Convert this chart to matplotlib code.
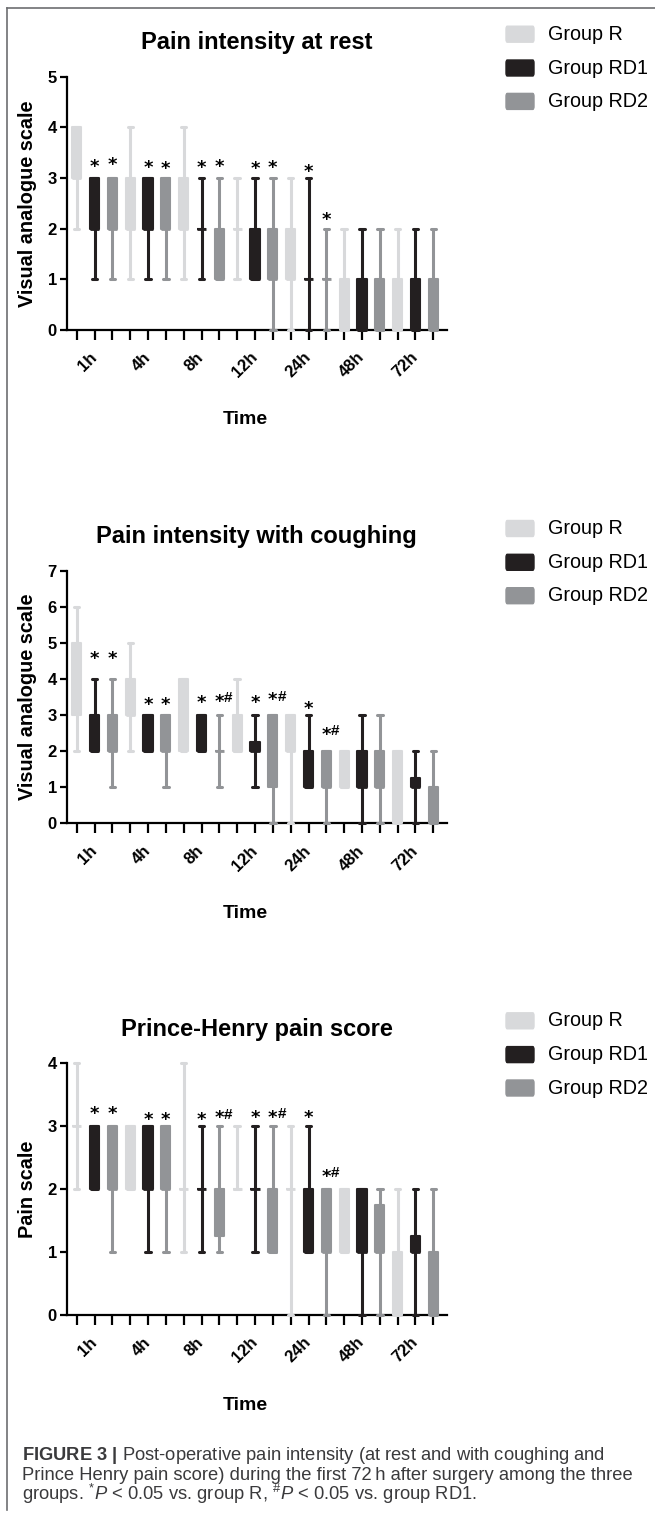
import matplotlib
matplotlib.use("Agg")
import matplotlib.pyplot as plt
from matplotlib.lines import Line2D
from matplotlib.patches import FancyBboxPatch
from matplotlib.transforms import offset_copy

plt.rcParams['font.family'] = ['Liberation Sans', 'DejaVu Sans']

# ---------------- Data ----------------
groups = ["Group R", "Group RD1", "Group RD2"]
colors = ["#d8d9db", "#231f20", "#929497"]
times = ["1h", "4h", "8h", "12h", "24h", "48h", "72h"]

# 21 boxes per panel: for each time point R, RD1, RD2
rest_min = [2, 1, 1, 1, 1, 1, 1, 1, 1, 1, 1, 0, 0, 0, 0, 0, 0, 0, 0, 0, 0]
rest_q1  = [3, 2, 2, 2, 2, 2, 2, 2, 1, 2, 1, 1, 1, 1, 1, 0, 0, 0, 0, 0, 0]
rest_med = [3, 2, 2, 2, 2, 2, 2, 2, 1, 2, 1, 1, 1, 1, 1, 0, 0, 0, 0, 0, 0]
rest_q3  = [4, 3, 3, 3, 3, 3, 3, 2, 2, 2, 2, 2, 2, 1, 1, 1, 1, 1, 1, 1, 1]
rest_max = [4, 3, 3, 4, 3, 3, 4, 3, 3, 3, 3, 3, 3, 3, 2, 2, 2, 2, 2, 2, 2]

cough_min = [2, 2, 1, 2, 2, 1, 2, 2, 1, 2, 1, 0, 0, 1, 0, 1, 0, 0, 0, 0, 0]
cough_q1  = [3, 2, 2, 3, 2, 2, 2, 2, 2, 2, 2, 1, 2, 1, 1, 1, 1, 1, 0, 1, 0]
cough_med = [4, 2, 2, 3, 2, 2, 3, 2, 2, 2, 2, 2, 2, 1, 1, 1, 1, 1, 1, 1, 0]
cough_q3  = [5, 3, 3, 4, 3, 3, 4, 3, 2, 3, 2.25, 3, 3, 2, 2, 2, 2, 2, 2, 1.25, 1]
cough_max = [6, 4, 4, 5, 3, 3, 4, 3, 3, 4, 3, 3, 3, 3, 2, 2, 3, 3, 2, 2, 2]

phps_min = [2, 2, 1, 2, 1, 1, 1, 1, 1, 2, 1, 1, 0, 1, 0, 1, 0, 0, 0, 0, 0]
phps_q1  = [3, 2, 2, 2, 2, 2, 2, 2, 1.25, 2, 2, 1, 2, 1, 1, 1, 1, 1, 0, 1, 0]
phps_med = [3, 2, 2, 2, 2, 2, 2, 2, 2, 2, 2, 1, 2, 1, 1, 1, 1, 1, 0, 1, 0]
phps_q3  = [3, 3, 3, 3, 3, 3, 2, 2, 2, 2, 2, 2, 2, 2, 2, 2, 2, 1.75, 1, 1.25, 1]
phps_max = [4, 3, 3, 3, 3, 3, 4, 3, 3, 3, 3, 3, 3, 3, 2, 2, 2, 2, 2, 2, 2]

# significance marks: box index, height, text
rest_star_pos = [1, 2, 4, 5, 7, 8, 10, 11, 13, 14]
rest_star_y = [3.32, 3.36, 3.30, 3.29, 3.30, 3.32, 3.29, 3.30, 3.22, 2.27]
rest_star_txt = ["*", "*", "*", "*", "*", "*", "*", "*", "*", "*"]

cough_star_pos = [1, 2, 4, 5, 7, 8, 10, 11, 13, 14]
cough_star_y = [4.72, 4.70, 3.42, 3.42, 3.50, 3.52, 3.50, 3.56, 3.33, 2.61]
cough_star_txt = ["*", "*", "*", "*", "*", "*#", "*", "*#", "*", "*#"]

phps_star_pos = [1, 2, 4, 5, 7, 8, 10, 11, 13, 14]
phps_star_y = [3.28, 3.28, 3.19, 3.19, 3.19, 3.21, 3.21, 3.22, 3.22, 2.28]
phps_star_txt = ["*", "*", "*", "*", "*", "*#", "*", "*#", "*", "*#"]

# ---------------- Figure ----------------
W, H = 655, 1523
fig = plt.figure(figsize=(W / 100, H / 100), dpi=100)


def px_rect(left, top, right, bottom):
    return [left / W, 1 - bottom / H, (right - left) / W, (bottom - top) / H]


def draw_panel(rect, title, ylabel, ymax, mins, q1s, meds, q3s, maxs,
               star_pos, star_y, star_txt):
    ax = fig.add_axes(px_rect(*rect))
    for i in range(len(mins)):
        c = colors[i % 3]
        stats = [dict(whislo=mins[i], q1=q1s[i], med=meds[i], q3=q3s[i],
                      whishi=maxs[i], fliers=[])]
        art = ax.bxp(stats, positions=[i], widths=0.52, capwidths=[0.3],
                     patch_artist=True, showfliers=False, manage_ticks=False,
                     boxprops=dict(facecolor=c, edgecolor=c, linewidth=1.5,
                                   joinstyle='round'),
                     whiskerprops=dict(color=c, linewidth=2.2, solid_capstyle='butt'),
                     capprops=dict(color=c, linewidth=2.2, solid_capstyle='round'),
                     medianprops=dict(color=c, linewidth=2.0, solid_capstyle='butt'),
                     zorder=3)
        for key in art:
            for a in art[key]:
                a.set_clip_on(False)

    ax.set_xlim(-0.56, 20.75)
    ax.set_ylim(0, ymax)
    for s in ["top", "right"]:
        ax.spines[s].set_visible(False)
    for s in ["left", "bottom"]:
        ax.spines[s].set_linewidth(1.6)

    ax.set_xticks(range(len(mins)), minor=True)
    ax.set_xticks([1, 4, 7, 10, 13, 16, 19])
    ax.set_xticklabels(times, rotation=45, ha='right', va='center',
                       rotation_mode='anchor', fontsize=12, fontweight='bold')
    ax.tick_params(axis='x', which='both', length=7, width=1.6, pad=11)
    ax.set_yticks(range(ymax + 1))
    ax.set_yticklabels([str(v) for v in range(ymax + 1)], fontsize=12,
                       fontweight='bold')
    ax.tick_params(axis='y', length=5, width=1.6, pad=2)

    ax.set_title(title, fontsize=17, fontweight='bold', pad=20)
    height = rect[3] - rect[1]
    ax.text(-(rect[0] - 28) / (rect[2] - rect[0]), 0.5, ylabel, rotation=90,
            ha='center', va='center', fontsize=14.3, fontweight='bold',
            transform=ax.transAxes)
    ax.text((245 - rect[0]) / (rect[2] - rect[0]), -90 / height, "Time",
            ha='center', va='center', fontsize=14, fontweight='bold',
            transform=ax.transAxes)

    star_tr = offset_copy(ax.transData, fig=fig, y=-7.5, units='points')
    hash_tr = offset_copy(ax.transData, fig=fig, x=3.3, y=-4, units='points')
    for p, y, t in zip(star_pos, star_y, star_txt):
        ax.text(p, y, "*", ha='center', va='baseline', fontsize=13,
                fontweight='bold', family='DejaVu Sans', transform=star_tr,
                clip_on=False)
        if t.endswith("#"):
            ax.text(p, y, "#", ha='left', va='baseline', fontsize=11,
                    fontweight='bold', transform=hash_tr, clip_on=False)

    # legend
    top = rect[1]
    for k, off in enumerate([-42.5, -8.7, 24.7]):
        yc = top + off
        patch = FancyBboxPatch((506 / W, 1 - (yc + 8) / H), 28 / W, 16 / H,
                               boxstyle="round,pad=0,rounding_size=0.002",
                               transform=fig.transFigure, facecolor=colors[k],
                               edgecolor=colors[k], linewidth=1)
        fig.patches.append(patch)
        fig.text(548 / W, 1 - yc / H, groups[k], ha='left', va='center',
                 fontsize=14.2)
    return ax


draw_panel((66.7, 76.7, 446.7, 330), "Pain intensity at rest",
           "Visual analogue scale", 5, rest_min, rest_q1, rest_med, rest_q3,
           rest_max, rest_star_pos, rest_star_y, rest_star_txt)
draw_panel((66.7, 571, 446.7, 823.3), "Pain intensity with coughing",
           "Visual analogue scale", 7, cough_min, cough_q1, cough_med, cough_q3,
           cough_max, cough_star_pos, cough_star_y, cough_star_txt)
draw_panel((66.7, 1063.3, 446.7, 1315), "Prince-Henry pain score",
           "Pain scale", 4, phps_min, phps_q1, phps_med, phps_q3,
           phps_max, phps_star_pos, phps_star_y, phps_star_txt)

# frame lines
fig.add_artist(Line2D([7 / W, 1], [1 - 8 / H, 1 - 8 / H], color="#6d6e71",
                      linewidth=1.2, transform=fig.transFigure))
fig.add_artist(Line2D([7 / W, 7 / W], [1 - 8 / H, 1 - 1510 / H], color="#6d6e71",
                      linewidth=1.2, transform=fig.transFigure))

# caption
cap_font, cap_size = "Liberation Sans", 13.2
plt.rcParams['mathtext.fontset'] = 'custom'
plt.rcParams['mathtext.rm'] = cap_font
plt.rcParams['mathtext.it'] = cap_font + ':italic'
plt.rcParams['mathtext.bf'] = cap_font + ':bold'

caption = [
    r"$\mathbf{FIGURE\ 3\ |}$ Post-operative pain intensity (at rest and with coughing and",
    "Prince Henry pain score) during the first 72\u2009h after surgery among the three",
    r"groups. $^{*}\mathit{P}$ < 0.05 vs. group R, $^{\#}\mathit{P}$ < 0.05 vs. group RD1.",
]
for line, base in zip(caption, [1460, 1480, 1500]):
    fig.text(22 / W, 1 - base / H, line, ha='left', va='baseline',
             fontsize=cap_size, family=[cap_font, 'DejaVu Sans'], color="#3a3a3c")

fig.savefig("out.png", dpi=100)
